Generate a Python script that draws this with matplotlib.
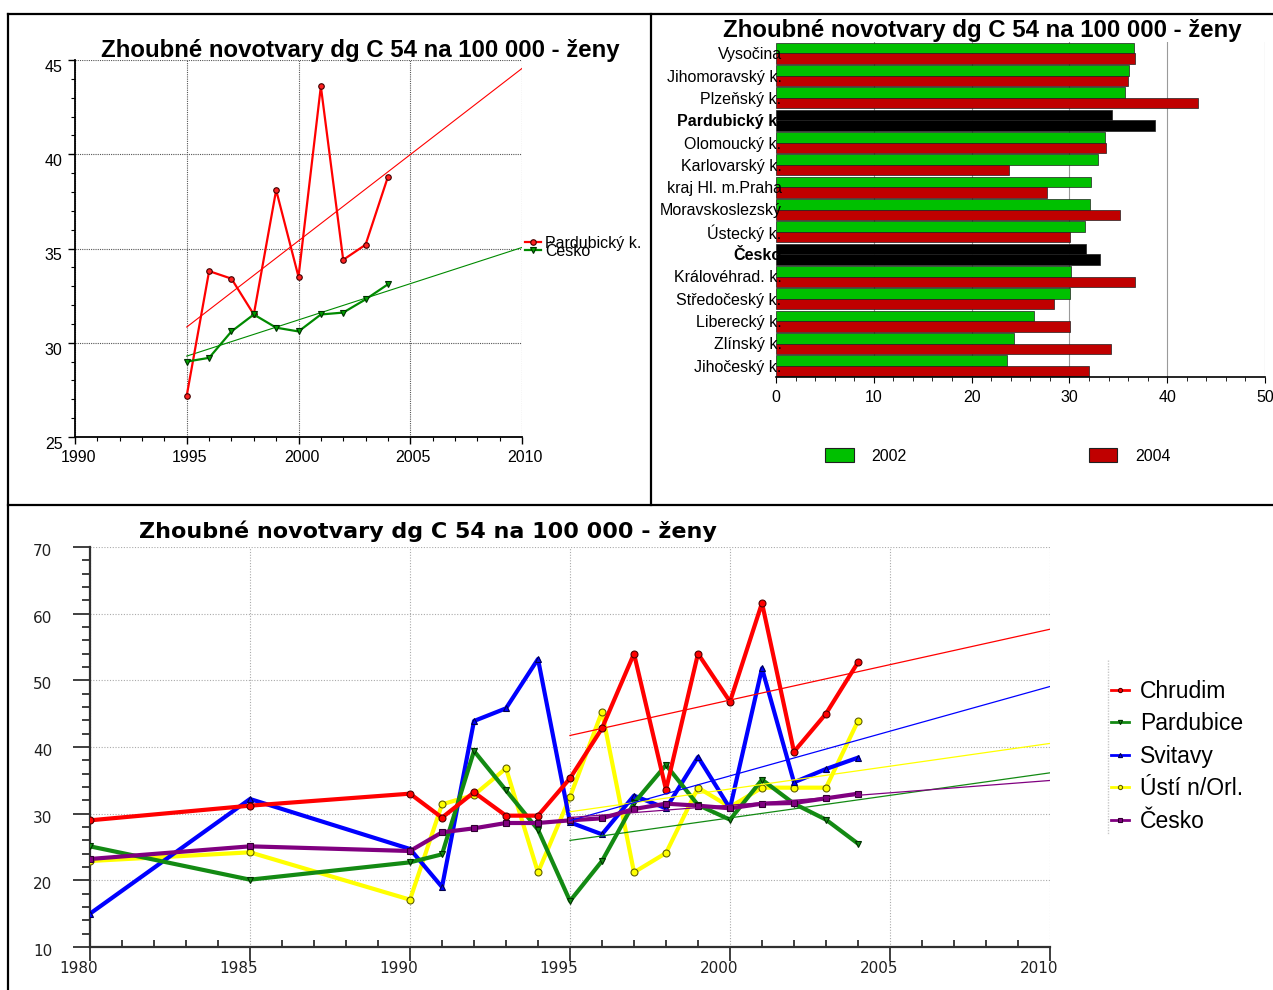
import numpy as np
import matplotlib
matplotlib.use('Agg')
import matplotlib.pyplot as plt
from matplotlib.lines import Line2D
from matplotlib.patches import Patch
from matplotlib.ticker import MultipleLocator
import matplotlib.transforms as mtrans

# ---------------- data ----------------
title_text = "Zhoubné novotvary dg C 54 na 100 000 - ženy"

# top-left line chart
years_tl = [1995, 1996, 1997, 1998, 1999, 2000, 2001, 2002, 2003, 2004]
pardubicky_k = [27.2, 33.8, 33.4, 31.5, 38.1, 33.5, 43.6, 34.4, 35.2, 38.8]
cesko_tl = [29.0, 29.2, 30.6, 31.5, 30.8, 30.6, 31.5, 31.6, 32.3, 33.1]

# top-right bar chart
regions = ["Vysočina", "Jihomoravský k.", "Plzeňský k.", "Pardubický k.",
           "Olomoucký k.", "Karlovarský k.", "kraj Hl. m.Praha",
           "Moravskoslezský", "Ústecký k.", "Česko", "Královéhrad. k.",
           "Středočeský k.", "Liberecký k.", "Zlínský k.", "Jihočeský k."]
values_2002 = [36.6, 36.1, 35.7, 34.4, 33.6, 32.9, 32.2, 32.1, 31.6, 31.7,
               30.2, 30.1, 26.4, 24.3, 23.6]
values_2004 = [36.7, 36.0, 43.2, 38.8, 33.7, 23.8, 27.7, 35.2, 30.1, 33.1,
               36.7, 28.4, 30.1, 34.3, 32.0]
highlighted = ["Pardubický k.", "Česko"]
bar_years = ["2002", "2004"]

# bottom line chart
years_b = [1980, 1985, 1990, 1991, 1992, 1993, 1994, 1995, 1996, 1997,
           1998, 1999, 2000, 2001, 2002, 2003, 2004]
chrudim = [29.0, 31.2, 33.0, 29.4, 33.2, 29.7, 29.7, 35.3, 42.8, 54.0,
           33.6, 54.0, 46.8, 61.6, 39.3, 45.0, 52.7]
pardubice = [25.1, 20.1, 22.7, 23.9, 39.4, 33.5, 27.6, 16.9, 22.9, 31.6,
             37.3, 31.3, 29.1, 35.1, 31.5, 29.1, 25.5]
svitavy = [15.0, 32.2, 24.7, 19.0, 43.9, 45.8, 53.2, 28.7, 26.9, 32.7,
           30.8, 38.5, 30.8, 51.8, 34.7, 36.7, 38.4]
usti = [22.9, 24.2, 17.1, 31.4, 32.8, 36.8, 21.2, 32.5, 45.3, 21.2,
        24.1, 33.9, 31.0, 33.9, 33.9, 33.9, 43.9]
cesko_b = [23.2, 25.1, 24.4, 27.2, 27.8, 28.6, 28.6, 29.0, 29.3, 30.7,
           31.5, 31.2, 30.8, 31.5, 31.6, 32.3, 33.0]
trend_start, trend_end = 1995, 2010

# ---------------- figure ----------------
W, H = 1273, 990
fig = plt.figure(figsize=(W / 100, H / 100), dpi=100)
fig.patch.set_facecolor('white')


def ax_rect(l, t, r, b):
    return [l / W, 1 - b / H, (r - l) / W, (b - t) / H]


def px_offset(dx, dy):
    return mtrans.ScaledTranslation(dx / 100, -dy / 100, fig.dpi_scale_trans)


ARIAL = 'Liberation Sans'

# panel borders
for (x0, y0, x1, y1) in [(8, 14, 1273, 14), (8, 14, 8, 990),
                         (651, 14, 651, 505), (8, 505, 1273, 505)]:
    fig.add_artist(Line2D([x0 / W, x1 / W], [1 - y0 / H, 1 - y1 / H],
                          color='black', lw=1.6, transform=fig.transFigure))

# ---------------- top-left ----------------
ax1 = fig.add_axes(ax_rect(75, 60, 522, 437))
ax1.set_xlim(1990, 2010)
ax1.set_ylim(25, 45)
ax1.xaxis.set_major_locator(MultipleLocator(5))
ax1.xaxis.set_minor_locator(MultipleLocator(1))
ax1.yaxis.set_major_locator(MultipleLocator(5))
ax1.yaxis.set_minor_locator(MultipleLocator(1))
ax1.grid(True, which='major', color='#555555', lw=0.8, ls=(0, (1, 1)))
for s in ['top', 'right']:
    ax1.spines[s].set_visible(False)
for s in ['left', 'bottom']:
    ax1.spines[s].set_linewidth(1.3)
ax1.tick_params(which='major', direction='out', length=5, width=1, pad=4,
                labelsize=11.5)
ax1.tick_params(which='minor', direction='out', length=3, width=0.8)
for lab in ax1.get_xticklabels():
    lab.set_fontfamily(ARIAL)
    lab.set_transform(lab.get_transform() + px_offset(3, 0))
for lab in ax1.get_yticklabels():
    lab.set_fontfamily(ARIAL)
    lab.set_transform(lab.get_transform() + px_offset(0, 6))

ax1.plot(years_tl, pardubicky_k, color='#ff0000', lw=1.6, marker='o', ms=4,
         mfc='#ff2020', mec='#400000', mew=0.8, label='Pardubický k.', zorder=4)
ax1.plot(years_tl, cesko_tl, color='#008a00', lw=1.6, marker='v', ms=5,
         mfc='#00a000', mec='#003000', mew=0.8, label='Česko', zorder=4)
xt = np.array([trend_start, trend_end])
for series, col in [(pardubicky_k, '#ff0000'), (cesko_tl, '#008a00')]:
    c = np.polyfit(years_tl, series, 1)
    ax1.plot(xt, np.polyval(c, xt), color=col, lw=0.8, zorder=3)
ax1.legend(loc='upper left', bbox_to_anchor=(525 / W, 1 - 236 / H),
           bbox_transform=fig.transFigure, frameon=False,
           prop={'family': ARIAL, 'size': 11.5}, handlelength=1.0,
           handletextpad=0.25, labelspacing=-0.45, borderpad=0,
           borderaxespad=0)
fig.text(360 / W, 1 - 50 / H, title_text, ha='center', va='center',
         fontsize=17.3, fontweight='bold', family=ARIAL)

# ---------------- top-right bar chart ----------------
ax2 = fig.add_axes(ax_rect(776, 42, 1265, 377))
pos = np.arange(len(regions))
bh = 0.47
c02 = ['black' if r in highlighted else '#00c000' for r in regions]
c04 = ['black' if r in highlighted else '#c00000' for r in regions]
ax2.set_xlim(0, 50)
ax2.xaxis.set_major_locator(MultipleLocator(10))
ax2.xaxis.set_minor_locator(MultipleLocator(2))
for xv in ax2.get_xticks():
    if 0 < xv <= 50:
        ax2.axvline(xv, color='#9a9a9a', lw=0.8, zorder=0.5)
ax2.barh(pos - bh / 2, values_2002, height=bh, color=c02, edgecolor='#202020',
         lw=0.5, zorder=2)
ax2.barh(pos + bh / 2, values_2004, height=bh, color=c04, edgecolor='#202020',
         lw=0.5, zorder=2)
ax2.set_axisbelow(False)
ax2.set_ylim(len(regions) - 0.5, -0.5)
ax2.set_xlim(0, 50)
ax2.set_yticks(pos)
ax2.set_yticklabels(regions)
for lab in ax2.get_yticklabels():
    lab.set_fontfamily(ARIAL)
    if lab.get_text() in highlighted:
        lab.set_fontweight('bold')
for s in ['top', 'right', 'left']:
    ax2.spines[s].set_visible(False)
ax2.spines['bottom'].set_linewidth(1.2)
ax2.tick_params(axis='y', length=0, pad=-4, labelsize=11.5)
ax2.tick_params(axis='x', which='major', direction='out', length=4, pad=5,
                labelsize=11.5)
ax2.tick_params(axis='x', which='minor', direction='out', length=3)
for lab in ax2.get_xticklabels():
    lab.set_fontfamily(ARIAL)
fig.text(982 / W, 1 - 30 / H, title_text, ha='center', va='center',
         fontsize=17.3, fontweight='bold', family=ARIAL)
bar_handles = [Patch(facecolor='#00c000', edgecolor='#202020', lw=0.8),
               Patch(facecolor='#c00000', edgecolor='#202020', lw=0.8)]
fig.legend(bar_handles, bar_years, loc='center left',
           bbox_to_anchor=(825 / W, 1 - 456 / H), frameon=False, ncol=2,
           prop={'family': ARIAL, 'size': 11.5}, handlelength=1.8,
           handleheight=0.9, handletextpad=1.1, columnspacing=11.4,
           borderpad=0, borderaxespad=0)

# ---------------- bottom chart ----------------
ax3 = fig.add_axes(ax_rect(90, 547, 1050, 947))
ax3.set_xlim(1980, 2010)
ax3.set_ylim(10, 70)
ax3.xaxis.set_major_locator(MultipleLocator(5))
ax3.xaxis.set_minor_locator(MultipleLocator(1))
ax3.yaxis.set_major_locator(MultipleLocator(10))
ax3.yaxis.set_minor_locator(MultipleLocator(2))
ax3.grid(True, which='major', color='#aaaaaa', lw=0.8, ls=(0, (1, 1.5)))
for s in ['top', 'right']:
    ax3.spines[s].set_visible(False)
for s in ['left', 'bottom']:
    ax3.spines[s].set_linewidth(1.6)
    ax3.spines[s].set_color('#303030')
ax3.tick_params(axis='y', which='major', direction='out', length=12, width=1.3,
                pad=15, labelsize=11, colors='#303030')
ax3.tick_params(axis='y', which='minor', direction='out', length=6, width=1.3,
                colors='#303030')
ax3.tick_params(axis='x', which='major', direction='out', length=10, width=1.3,
                pad=1, labelsize=11, colors='#303030')
ax3.tick_params(axis='x', which='minor', direction='in', length=5, width=1.3,
                colors='#303030')
for lab in ax3.get_xticklabels():
    lab.set_color('#202020')
    lab.set_transform(lab.get_transform() + px_offset(-11, -1))
for lab in ax3.get_yticklabels():
    lab.set_color('#202020')
    lab.set_transform(lab.get_transform() + px_offset(0, 3))

series_b = [
    (usti, 'Ústí n/Orl.', '#ffff00', 'o', '#606000', 3),
    (svitavy, 'Svitavy', '#0000ff', '^', '#000050', 4),
    (pardubice, 'Pardubice', '#138a13', 'v', '#003000', 5),
    (cesko_b, 'Česko', '#800080', 's', '#300030', 6),
    (chrudim, 'Chrudim', '#ff0000', 'o', '#500000', 7),
]
lines = {}
for vals, name, col, mk, ec, z in series_b:
    ln, = ax3.plot(years_b, vals, color=col, lw=3.0, marker=mk, ms=5,
                   mfc=col, mec=ec, mew=0.8, label=name, zorder=z)
    lines[name] = ln
yb = np.array(years_b)
mask = yb >= trend_start
for vals, name, col, mk, ec, z in series_b:
    c = np.polyfit(yb[mask], np.array(vals)[mask], 1)
    ax3.plot(xt, np.polyval(c, xt), color=col, lw=0.9, zorder=8)

fig.text(428 / W, 1 - 531 / H, title_text, ha='center', va='center',
         fontsize=16, fontweight='bold', family='DejaVu Sans')

order = ['Chrudim', 'Pardubice', 'Svitavy', 'Ústí n/Orl.', 'Česko']
leg = ax3.legend([lines[n] for n in order], order, loc='upper left',
                 bbox_to_anchor=(1111 / W, 1 - 680 / H),
                 bbox_transform=fig.transFigure, frameon=False,
                 prop={'family': ARIAL, 'size': 16.5}, handlelength=0.8,
                 handletextpad=0.45, labelspacing=0.41, borderpad=0,
                 borderaxespad=0, markerscale=0.6)
for h in leg.legend_handles:
    h.set_linewidth(2)
fig.add_artist(Line2D([1108 / W, 1108 / W], [1 - 660 / H, 1 - 834 / H],
                      color='#c8c8c8', lw=1.0, ls=(0, (1, 1)),
                      transform=fig.transFigure))

fig.savefig('out.png', dpi=100, facecolor='white')
